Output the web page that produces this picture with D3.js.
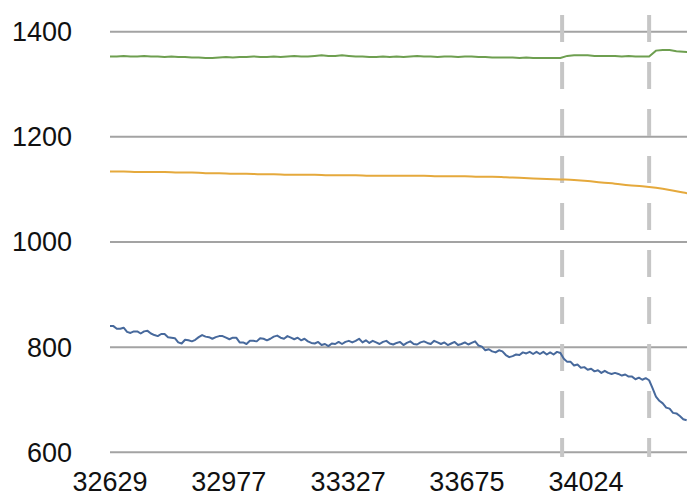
<!DOCTYPE html>
<html>
<head>
<meta charset="utf-8">
<script src="https://cdn.jsdelivr.net/npm/d3@7"></script>
<style>
  body { margin: 0; background: #fff; }
  svg text { font-family: 'Liberation Sans', Arial, Helvetica, sans-serif; fill: #111; }
</style>
</head>
<body>
<svg id="chart" width="687" height="497"></svg>
<script>
// x ticks and y ticks as printed on the chart
var xTicks = [32629, 32977, 33327, 33675, 34024]
var yTicks = [600, 800, 1000, 1200, 1400]

// vertical dashed markers (x positions in data units)
var markers = [33954, 34209]

// blue series, one sample every 10 units starting at 32629
var blueStart = 32629
var blueStep = 10
var blueValues = [
  840, 840, 835, 835, 837, 829, 827, 830, 830, 826,
  830, 831, 826, 823, 821, 825, 825, 819, 818, 817,
  809, 807, 814, 813, 811, 814, 819, 823, 820, 819,
  816, 819, 821, 821, 818, 815, 818, 818, 809, 809,
  806, 812, 812, 811, 817, 816, 813, 816, 820, 822,
  818, 816, 821, 818, 815, 818, 813, 816, 811, 808,
  807, 810, 804, 806, 802, 807, 806, 810, 806, 810,
  812, 809, 812, 816, 809, 813, 808, 812, 809, 806,
  810, 812, 807, 805, 808, 810, 804, 808, 811, 806,
  805, 809, 811, 808, 806, 812, 809, 806, 809, 804,
  807, 810, 804, 806, 809, 805, 808, 811, 803, 801,
  794, 796, 792, 790, 794, 792, 785, 781, 783, 786,
  785, 790, 788, 791, 787, 791, 787, 791, 786, 790,
  786, 791, 789, 778, 772, 772, 765, 767, 761, 762,
  757, 759, 754, 756, 751, 755, 751, 749, 751, 749,
  746, 748, 744, 744, 739, 742, 738, 741, 737, 722,
  706, 698, 693, 685, 683, 675, 674, 669, 663, 661
]

// green series, one sample every 20 units
var greenStart = 32629
var greenStep = 20
var greenValues = [
  1353, 1353, 1354, 1353, 1353, 1354, 1353, 1353, 1352, 1353,
  1352, 1352, 1351, 1351, 1350, 1350, 1351, 1352, 1351, 1352,
  1352, 1353, 1352, 1352, 1353, 1352, 1353, 1354, 1353, 1353,
  1354, 1355, 1354, 1354, 1355, 1354, 1353, 1353, 1352, 1352,
  1353, 1352, 1353, 1352, 1353, 1354, 1353, 1353, 1352, 1353,
  1353, 1352, 1353, 1353, 1352, 1352, 1351, 1351, 1351, 1351,
  1350, 1351, 1350, 1350, 1350, 1350, 1350, 1354, 1355, 1355,
  1355, 1354, 1354, 1354, 1354, 1353, 1354, 1353, 1353, 1353,
  1364, 1365, 1365, 1363, 1362, 1361
]

// orange series, one sample every 40 units (smooth)
var orangeStart = 32629
var orangeStep = 40
var orangeValues = [
  1134, 1134, 1133, 1133, 1133, 1132, 1132, 1131, 1131, 1130,
  1130, 1129, 1129, 1128, 1128, 1128, 1127, 1127, 1127, 1126,
  1126, 1126, 1126, 1126, 1125, 1125, 1125, 1124, 1124, 1123,
  1122, 1121, 1120, 1119, 1118, 1116, 1113, 1111, 1108, 1106,
  1103, 1099, 1094, 1090
]

var svg = d3.select('#chart')
var W = 687

var x = d3.scaleLinear().domain([32629, 34024]).range([110, 586])
var y = d3.scaleLinear().domain([600, 1400]).range([452.3, 31.7])

svg.append('defs').append('clipPath').attr('id', 'plot-clip')
  .append('rect').attr('x', 110).attr('y', 0).attr('width', W - 110).attr('height', 497)

// horizontal grid
svg.append('g')
  .selectAll('line')
  .data(yTicks)
  .enter()
  .append('line')
  .attr('x1', 110)
  .attr('x2', W)
  .attr('y1', function (d) { return y(d) })
  .attr('y2', function (d) { return y(d) })
  .attr('stroke', '#a3a3a3')
  .attr('stroke-width', 2)

// y labels
svg.append('g')
  .selectAll('text')
  .data(yTicks)
  .enter()
  .append('text')
  .attr('x', 72)
  .attr('y', function (d) { return y(d) })
  .attr('dy', '0.35em')
  .attr('text-anchor', 'end')
  .attr('font-size', 27)
  .text(function (d) { return d })

// x labels
svg.append('g')
  .selectAll('text')
  .data(xTicks)
  .enter()
  .append('text')
  .attr('x', function (d) { return x(d) })
  .attr('y', 491)
  .attr('text-anchor', 'middle')
  .attr('font-size', 27)
  .text(function (d) { return d })

// dashed markers
svg.append('g')
  .selectAll('line')
  .data(markers)
  .enter()
  .append('line')
  .attr('x1', function (d) { return x(d) })
  .attr('x2', function (d) { return x(d) })
  .attr('y1', 15)
  .attr('y2', 457)
  .attr('stroke', '#c6c6c6')
  .attr('stroke-width', 4)
  .attr('stroke-dasharray', '27 20')

function toPoints(start, step, values) {
  return values.map(function (v, i) { return [start + i * step, v] })
}

var plot = svg.append('g').attr('clip-path', 'url(#plot-clip)')

var line = d3.line()
  .x(function (d) { return x(d[0]) })
  .y(function (d) { return y(d[1]) })

plot.append('path')
  .datum(toPoints(greenStart, greenStep, greenValues))
  .attr('fill', 'none')
  .attr('stroke', '#6e9f50')
  .attr('stroke-width', 2)
  .attr('d', line)

plot.append('path')
  .datum(toPoints(orangeStart, orangeStep, orangeValues))
  .attr('fill', 'none')
  .attr('stroke', '#e5a93c')
  .attr('stroke-width', 2)
  .attr('d', line.curve(d3.curveMonotoneX))

line.curve(d3.curveLinear)

plot.append('path')
  .datum(toPoints(blueStart, blueStep, blueValues))
  .attr('fill', 'none')
  .attr('stroke', '#47699c')
  .attr('stroke-width', 2)
  .attr('stroke-linejoin', 'round')
  .attr('d', line)
</script>
</body>
</html>
